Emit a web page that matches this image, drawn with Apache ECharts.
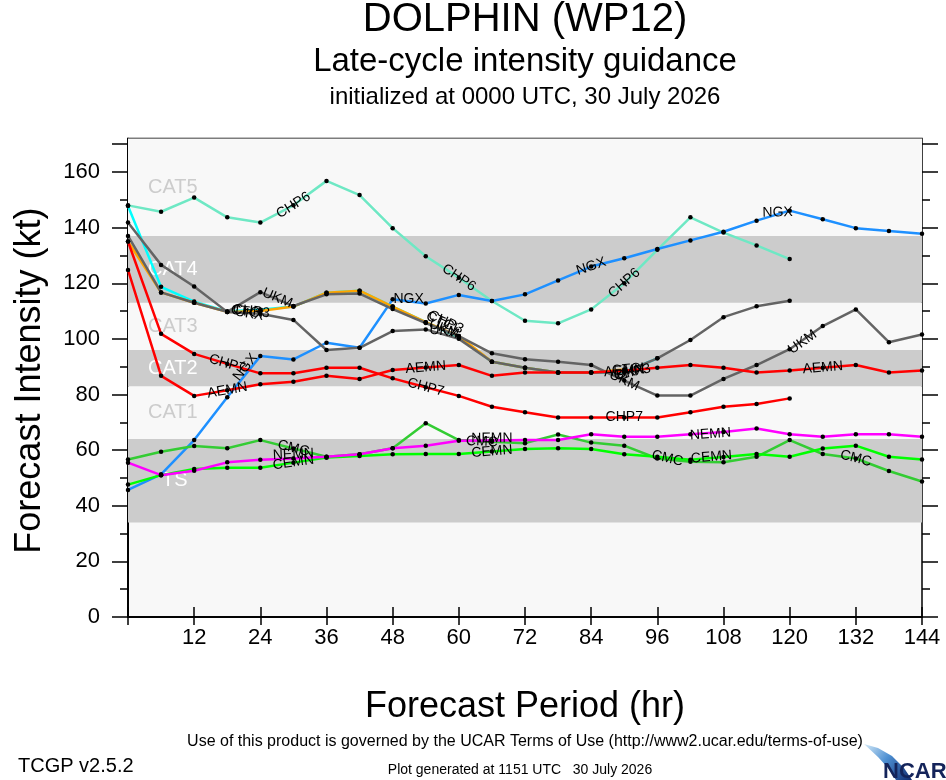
<!DOCTYPE html>
<html>
<head>
<meta charset="utf-8">
<script src="https://cdn.jsdelivr.net/npm/echarts@6/dist/echarts.min.js"></script>
<style>
html, body { margin: 0; padding: 0; background: #fff; }
#main { width: 946px; height: 780px; }
</style>
</head>
<body>
<div id="main"></div>
<script>
// forecast hours (every 6 h)
var hours = [0, 6, 12, 18, 24, 30, 36, 42, 48, 54, 60, 66, 72, 78, 84, 90, 96, 102, 108, 114, 120, 126, 132, 138, 144];

// intensity (kt) per model
var chp6 = [148, 145.7, 150.8, 143.7, 141.8, 148, 156.8, 151.7, 139.8, 129.7, 122, 113.6, 106.5, 105.6, 110.6, 120, 132, 143.7, 138.2, 133.6, 128.7];
var ngx  = [45.7, 51.3, 63.6, 79, 93.8, 92.6, 98.6, 96.8, 114.2, 112.7, 115.8, 113.6, 116, 121, 126, 129, 132.3, 135.4, 138.5, 142.5, 146.1, 143, 139.8, 138.8, 137.8];
var chp3 = [147.8, 118.7, 113.4, 109.9, 110.5, 111.6, 116.6, 117.3, 111.6, 106, 100.5, 91.8, 89.6, 87.9, 87.9, 88, 93];
var ctci = [135, 116.7, 113, 109.7, 110, 111.6, 116.6, 117.3, 111.6, 106, 101, 91.8, 89.6, 87.9, 87.9, 89];
var ukx  = [137, 116.7, 113, 109.7, 109, 106.8, 96, 96.8, 102.8, 103.4, 100, 91.8, 89.6, 87.9, 87.9, 88, 93, 99.6, 107.8, 111.7, 113.7];
var ukm  = [141.8, 126.6, 118.8, 109.7, 116.8, 111.8, 116, 116.3, 110.7, 105.7, 101, 94.8, 92.7, 91.8, 90.6, 85, 79.6, 79.6, 85.6, 90.6, 96.3, 104.6, 110.6, 98.8, 101.6];
var chp7 = [135, 101.8, 94.6, 91, 87.6, 87.6, 89.6, 89.6, 85.8, 82.6, 79.5, 75.6, 73.6, 71.7, 71.7, 71.7, 71.7, 73.6, 75.6, 76.6, 78.6];
var aemn = [124.8, 86.7, 79.5, 81.5, 83.7, 84.6, 86.7, 85.6, 88.8, 89.7, 90.6, 86.7, 87.9, 87.9, 87.9, 88.5, 89.6, 90.6, 89.6, 87.9, 88.6, 89.6, 90.6, 87.9, 88.6];
var cmc  = [56.6, 59.4, 61.5, 60.7, 63.6, 60.6, 57.6, 58.5, 60.7, 69.7, 63.6, 63, 62.5, 65.6, 62.7, 61.6, 57, 55.8, 55.6, 57.6, 63.6, 58.6, 57, 52.5, 48.7];
var cemn = [47.6, 51, 53.2, 53.7, 53.7, 55.5, 57.3, 57.9, 58.5, 58.6, 58.6, 59.5, 60.4, 60.7, 60.4, 58.5, 57.6, 56.5, 57.5, 58.6, 57.6, 60.6, 61.6, 57.6, 56.6];
var nemn = [55.5, 51, 52.6, 55.6, 56.5, 57, 57.6, 58.5, 60.7, 61.6, 63.4, 63.5, 63.6, 63.6, 65.7, 64.8, 64.8, 65.7, 66.5, 67.8, 65.7, 64.8, 65.7, 65.7, 64.8];

// Saffir-Simpson bands (kt)
var bandNames = ['TS', 'CAT1', 'CAT2', 'CAT3', 'CAT4', 'CAT5'];
var bandLow   = [34, 64, 83, 96, 113, 137];
var bandHigh  = [64, 83, 96, 113, 137, 172];

var FONT = "'Liberation Sans', Arial, Helvetica, sans-serif";

// line colour + where the model name is written on the line (dx/dy in screen px)
var models = [
  { name: 'CHP6', values: chp6, color: '#6ee8c4', labels: [{ h: 30 }, { h: 60 }, { h: 90 }] },
  { name: 'NGX',  values: ngx,  color: '#1e90ff', labels: [{ h: 18, dx: 18, dy: -30 }, { h: 48, dx: 16, rot: 0 }, { h: 84 }, { h: 120, dx: -12, dy: 2 }] },
  { name: 'CHP3', values: chp3, color: '#00ffff', labels: [{ h: 18, dx: 24 }, { h: 54, dx: 20 }, { h: 90, dx: 8 }] },
  { name: 'CTCI', values: ctci, color: '#ffa500', labels: [{ h: 18, dx: 20 }, { h: 54, dx: 16 }, { h: 90, dx: 4 }] },
  { name: 'UKX',  values: ukx,  color: '#646464', labels: [{ h: 18, dx: 22, dy: 2 }, { h: 54, dx: 18, dy: 2 }, { h: 90, dx: 6 }] },
  { name: 'UKM',  values: ukm,  color: '#646464', labels: [{ h: 24, dx: 17, dy: 6, seg: 'next' }, { h: 54, dx: 18, dy: 6 }, { h: 90 }, { h: 120, dx: 13, dy: -7, seg: 'next' }] },
  { name: 'CHP7', values: chp7, color: '#ff0000', labels: [{ h: 18 }, { h: 54 }, { h: 90 }] },
  { name: 'AEMN', values: aemn, color: '#ff0000', labels: [{ h: 18 }, { h: 54 }, { h: 90 }, { h: 126 }] },
  { name: 'CMC',  values: cmc,  color: '#33cc33', labels: [{ h: 30 }, { h: 66, dx: -10 }, { h: 96, dx: 10 }, { h: 132 }] },
  { name: 'CEMN', values: cemn, color: '#00ff00', labels: [{ h: 30 }, { h: 66 }, { h: 108, dx: -12 }] },
  { name: 'NEMN', values: nemn, color: '#ff00ff', labels: [{ h: 30, dy: -4 }, { h: 66, dy: -2 }, { h: 102, dx: 20 }] }
];

var chart = echarts.init(document.getElementById('main'), null, { renderer: 'canvas' });

function bandData() {
  return bandNames.map(function (n, i) {
    var dark = (i % 2 === 0);
    return [{
      yAxis: bandLow[i],
      name: n,
      itemStyle: { color: dark ? '#cccccc' : '#f8f8f8' },
      label: {
        show: true, position: 'insideLeft', distance: 0,
        offset: [n === 'TS' ? 34 : 20, 0],
        color: dark ? '#ffffff' : '#cccccc',
        fontSize: 20, fontFamily: FONT
      }
    }, { yAxis: bandHigh[i] }];
  });
}

function rotationFor(m, i, lab) {
  if (lab.rot !== undefined) return lab.rot;
  var a = Math.max(i - 1, 0), b = Math.min(i + 1, m.values.length - 1);
  if (lab.seg === 'next') { a = i; b = Math.min(i + 1, m.values.length - 1); }
  var p1 = chart.convertToPixel({ gridIndex: 0 }, [hours[a], m.values[a]]);
  var p2 = chart.convertToPixel({ gridIndex: 0 }, [hours[b], m.values[b]]);
  return -Math.atan2(p2[1] - p1[1], p2[0] - p1[0]) * 180 / Math.PI;
}

// label offset is applied in the rotated frame; turn a screen shift into it
function localOffset(dx, dy, deg) {
  var t = deg * Math.PI / 180;
  return [dx * Math.cos(t) - dy * Math.sin(t), dx * Math.sin(t) + dy * Math.cos(t)];
}

function buildSeries(withRot) {
  var out = [{
    type: 'line', name: 'bands', data: [], z: 1, silent: true,
    xAxisIndex: 0, yAxisIndex: 0,
    markArea: { silent: true, data: bandData() }
  }];
  models.forEach(function (m) {
    var data = m.values.map(function (v, i) {
      var lab = null;
      m.labels.forEach(function (l) { if (l.h === hours[i]) lab = l; });
      if (!lab) return [hours[i], v];
      var rot = withRot ? rotationFor(m, i, lab) : 0;
      return {
        value: [hours[i], v],
        label: {
          show: true, formatter: m.name, position: 'inside',
          rotate: rot,
          offset: localOffset(lab.dx || 0, lab.dy || 0, rot),
          color: '#000', fontSize: 14, fontFamily: FONT
        }
      };
    });
    out.push({
      type: 'line', name: m.name, data: data, z: 3,
      xAxisIndex: 0, yAxisIndex: 0,
      symbol: 'circle', symbolSize: 4.5, showSymbol: true,
      itemStyle: { color: '#000' },
      lineStyle: { color: m.color, width: 2.5 },
      label: { show: false },
      emphasis: { disabled: true }
    });
  });
  return out;
}

var txt = function (x, y, text, font, extra) {
  var s = { text: text, font: font, fill: '#000', textAlign: 'center', textVerticalAlign: 'middle' };
  for (var k in extra) s[k] = extra[k];
  return { type: 'text', x: x, y: y, style: s, z: 10 };
};

var option = {
  animation: false,
  backgroundColor: '#ffffff',
  textStyle: { fontFamily: FONT },
  grid: [
    { left: 128, right: 24, top: 138.6, bottom: 163, show: true, backgroundColor: '#f8f8f8', borderColor: '#000', borderWidth: 1.5 },
    { left: 128, right: 24, top: 144.2, bottom: 163, show: false }
  ],
  xAxis: [
    {
      gridIndex: 0, type: 'value', position: 'bottom', min: 0, max: 144, interval: 12,
      axisLine: { show: true, lineStyle: { color: '#000', width: 1.5 } },
      axisTick: { show: true, inside: false, length: 8, lineStyle: { color: '#000', width: 1.5 } },
      axisLabel: { fontSize: 22, color: '#000', margin: 10, fontFamily: FONT,
        formatter: function (v) { return v === 0 ? '' : String(v); } },
      splitLine: { show: false },
      name: 'Forecast Period (hr)', nameLocation: 'middle', nameGap: 72,
      nameTextStyle: { fontSize: 36, color: '#000', fontFamily: FONT }
    },
    {
      gridIndex: 0, type: 'value', position: 'top', min: 0, max: 144, interval: 12,
      axisLine: { show: true, lineStyle: { color: '#000', width: 1.5 } },
      axisTick: { show: true, inside: false, length: 10, lineStyle: { color: '#000', width: 1.5 } },
      axisLabel: { show: false }, splitLine: { show: false }
    },
    { gridIndex: 1, type: 'value', min: 0, max: 144, show: false }
  ],
  yAxis: [
    {
      gridIndex: 0, type: 'value', min: 0, max: 172, position: 'left',
      axisLine: { show: true, lineStyle: { color: '#000', width: 1.5 } },
      axisTick: { show: false }, axisLabel: { show: false }, splitLine: { show: false }
    },
    {
      gridIndex: 0, type: 'value', min: 0, max: 172, position: 'right',
      axisLine: { show: true, lineStyle: { color: '#000', width: 1.5 } },
      axisTick: { show: false }, axisLabel: { show: false }, splitLine: { show: false }
    },
    {
      gridIndex: 1, type: 'value', min: 0, max: 170, interval: 20, position: 'left',
      axisLine: { show: false },
      axisTick: { show: true, inside: false, length: 16, lineStyle: { color: '#000', width: 1.5 } },
      minorTick: { show: true, splitNumber: 2, length: 8, lineStyle: { color: '#000', width: 1.5 } },
      axisLabel: { fontSize: 22, color: '#000', margin: 28, fontFamily: FONT,
        formatter: function (v) { return v % 20 === 0 ? String(v) : ''; } },
      splitLine: { show: false }, minorSplitLine: { show: false },
      name: 'Forecast Intensity (kt)', nameLocation: 'middle', nameGap: 80, nameRotate: 90,
      nameTextStyle: { fontSize: 36, color: '#000', fontFamily: FONT }
    },
    {
      gridIndex: 1, type: 'value', min: 0, max: 170, interval: 20, position: 'right',
      axisLine: { show: false },
      axisTick: { show: true, inside: false, length: 16, lineStyle: { color: '#000', width: 1.5 } },
      minorTick: { show: true, splitNumber: 2, length: 8, lineStyle: { color: '#000', width: 1.5 } },
      axisLabel: { show: false }, splitLine: { show: false }, minorSplitLine: { show: false }
    }
  ],
  graphic: [
    txt(525, 20, 'DOLPHIN (WP12)', '40px ' + FONT),
    txt(525, 62, 'Late-cycle intensity guidance', '33px ' + FONT),
    txt(525, 97, 'initialized at 0000 UTC, 30 July 2026', '24px ' + FONT),
    txt(525, 742, 'Use of this product is governed by the UCAR Terms of Use (http://www2.ucar.edu/terms-of-use)', '16px ' + FONT),
    txt(520, 770, 'Plot generated at 1151 UTC   30 July 2026', '14px ' + FONT),
    txt(18, 766, 'TCGP v2.5.2', '20px ' + FONT, { textAlign: 'left' }),
    {
      type: 'polygon', z: 10,
      shape: { points: [[864, 744], [878, 748], [892, 756], [904, 768], [912, 780], [896, 780], [888, 768], [878, 757]] },
      style: { fill: new echarts.graphic.LinearGradient(0, 0, 1, 1, [
        { offset: 0, color: '#d6ebf8' }, { offset: 0.45, color: '#4d8fd2' }, { offset: 1, color: '#0f2a6e' }]) }
    },
    txt(883, 783, 'NCAR', 'bold 22px ' + FONT, { textAlign: 'left', textVerticalAlign: 'bottom', fill: '#14245a' })
  ],
  series: buildSeries(false)
};

chart.setOption(option);
// second pass: turn each name along its line using the chart's own pixel scale
chart.setOption({ series: buildSeries(true) });
</script>
</body>
</html>
